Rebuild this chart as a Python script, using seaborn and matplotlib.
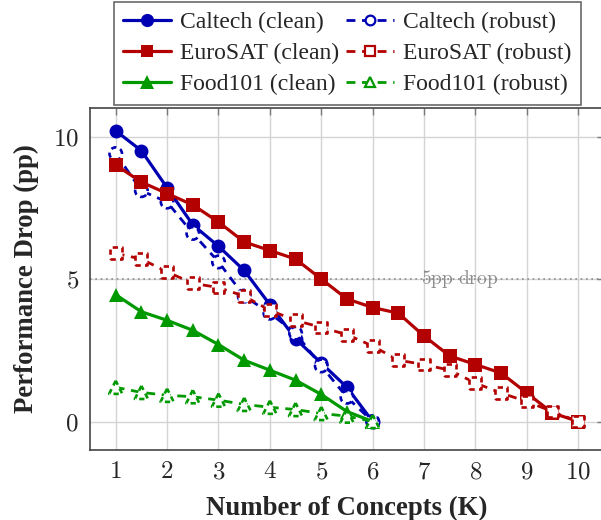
#!/usr/bin/env python3
"""Performance drop vs. number of concepts (clean vs robust), 3 datasets."""

import matplotlib

matplotlib.use("Agg")
import matplotlib.pyplot as plt
import numpy as np
import pandas as pd
import seaborn as sns
from matplotlib.lines import Line2D


# ---------------------------------------------------------------------------
# Data
# ---------------------------------------------------------------------------

K_SHORT = [1, 1.5, 2, 2.5, 3, 3.5, 4, 4.5, 5, 5.5, 6]
K_LONG = [1, 1.5, 2, 2.5, 3, 3.5, 4, 4.5, 5, 5.5, 6, 6.5, 7, 7.5, 8, 8.5, 9, 9.5, 10]

caltech_clean = [10.2, 9.5, 8.2, 6.9, 6.15, 5.3, 4.1, 2.9, 2.05, 1.2, 0.0]
caltech_robust = [9.4, 8.1, 7.7, 6.6, 5.6, 4.4, 3.8, 3.1, 1.95, 0.85, 0.0]

eurosat_clean = [9.0, 8.4, 8.0, 7.6, 7.0, 6.3, 6.0, 5.7, 5.0, 4.3, 4.0,
                 3.8, 3.0, 2.3, 2.0, 1.7, 1.0, 0.3, 0.0]
eurosat_robust = [5.9, 5.7, 5.25, 4.85, 4.7, 4.4, 3.9, 3.55, 3.3, 3.05, 2.65,
                  2.15, 2.0, 1.8, 1.35, 1.0, 0.7, 0.35, 0.0]

food_clean = [4.45, 3.85, 3.55, 3.2, 2.7, 2.15, 1.8, 1.45, 0.95, 0.35, 0.0]
food_robust = [1.2, 1.02, 0.92, 0.87, 0.75, 0.6, 0.5, 0.42, 0.28, 0.19, 0.0]

DATASETS = ["Caltech", "EuroSAT", "Food101"]
COLORS = {"Caltech": "#0000b3", "EuroSAT": "#b30000", "Food101": "#009900"}
MARKERS = {"Caltech": "o", "EuroSAT": "s", "Food101": "^"}
MSIZE = {"Caltech": 10.0, "EuroSAT": 9.5, "Food101": 10.5}

SERIES = [
    ("Caltech", "clean", K_SHORT, caltech_clean),
    ("Caltech", "robust", K_SHORT, caltech_robust),
    ("EuroSAT", "clean", K_LONG, eurosat_clean),
    ("EuroSAT", "robust", K_LONG, eurosat_robust),
    ("Food101", "clean", K_SHORT, food_clean),
    ("Food101", "robust", K_SHORT, food_robust),
]

THRESHOLD = 5


def build_frame() -> pd.DataFrame:
    rows = []
    for ds, setting, ks, vals in SERIES:
        for k, v in zip(ks, vals):
            rows.append({"dataset": ds, "setting": setting, "K": k, "drop": v})
    return pd.DataFrame(rows)


# ---------------------------------------------------------------------------
# Plot
# ---------------------------------------------------------------------------

sns.set_style("white")
plt.rcParams["font.family"] = ["Liberation Serif", "DejaVu Serif"]
plt.rcParams["mathtext.fontset"] = "cm"

df = build_frame()

fig = plt.figure(figsize=(6.01, 5.2), dpi=100)
ax = fig.add_axes([0.1498, 0.1346, 0.855, 0.6577])

ax.grid(True, color="#d4d4d4", linewidth=1.0, zorder=0)
ax.axhline(THRESHOLD, color="#8c8c8c", linestyle=(0, (1, 2.2)), linewidth=1.2, zorder=1)
ax.text(7.7, THRESHOLD, r"$\mathrm{5pp\ drop}$", color="#8c8c8c", fontsize=14,
        ha="center", va="center", zorder=1)

z = 2
for ds, setting, ks, vals in SERIES:
    sub = df[(df["dataset"] == ds) & (df["setting"] == setting)]
    c = COLORS[ds]
    if setting == "clean":
        sns.lineplot(data=sub, x="K", y="drop", color=c, linewidth=2.3, ax=ax,
                     marker=MARKERS[ds], markersize=MSIZE[ds], markeredgewidth=0,
                     markerfacecolor=c, zorder=z, legend=False)
    else:
        sns.lineplot(data=sub, x="K", y="drop", color=c, linewidth=2.0, ax=ax,
                     linestyle=(0, (3.2, 2.4)), zorder=z, legend=False)
        sns.scatterplot(data=sub, x="K", y="drop", marker=MARKERS[ds],
                        s=(MSIZE[ds] * 0.9) ** 2, facecolor="white", edgecolor=c,
                        linewidth=1.9, linestyle=(0, (2.0, 1.6)), ax=ax,
                        zorder=z + 0.5, legend=False)
    z += 1

ax.set_xlim(0.5, 10.5)
ax.set_ylim(-1, 11)
ax.set_xticks(range(1, 11))
ax.set_xticklabels([f"${i}$" for i in range(1, 11)])
ax.set_yticks([0, 5, 10])
ax.set_yticklabels(["$0$", "$5$", "$10$"])
ax.tick_params(axis="both", direction="in", length=5, width=1, color="#7a7a7a",
               labelsize=18, top=True, right=True, pad=8)
for sp in ax.spines.values():
    sp.set_color("#444444")
    sp.set_linewidth(1.2)

ax.set_xlabel("Number of Concepts (K)", fontsize=19.3, fontweight="bold", labelpad=9)
ax.set_ylabel("Performance Drop (pp)", fontsize=19.3, fontweight="bold", labelpad=10)

handles, labels = [], []
for setting in ("clean", "robust"):
    for ds in DATASETS:
        c = COLORS[ds]
        if setting == "clean":
            h = Line2D([], [], color=c, linewidth=2.3, marker=MARKERS[ds],
                       markersize=MSIZE[ds] * 0.95, markerfacecolor=c, markeredgewidth=0)
        else:
            h = Line2D([], [], color=c, linewidth=2.0, linestyle=(0, (3.2, 2.4)),
                       marker=MARKERS[ds], markersize=MSIZE[ds] * 0.7,
                       markerfacecolor="white", markeredgecolor=c, markeredgewidth=1.6)
        handles.append(h)
        labels.append(f"{ds} ({setting})")

leg = fig.legend(handles, labels, ncol=2, loc="upper center",
                 bbox_to_anchor=(0.578, 0.996), borderaxespad=0, fontsize=17,
                 frameon=True, fancybox=False, edgecolor="#444444", handlelength=2.0,
                 handletextpad=0.4, columnspacing=0.3, labelspacing=0.4,
                 borderpad=0.42)
leg.get_frame().set_linewidth(1.2)

fig.savefig("out.png", dpi=100)
plt.close(fig)
